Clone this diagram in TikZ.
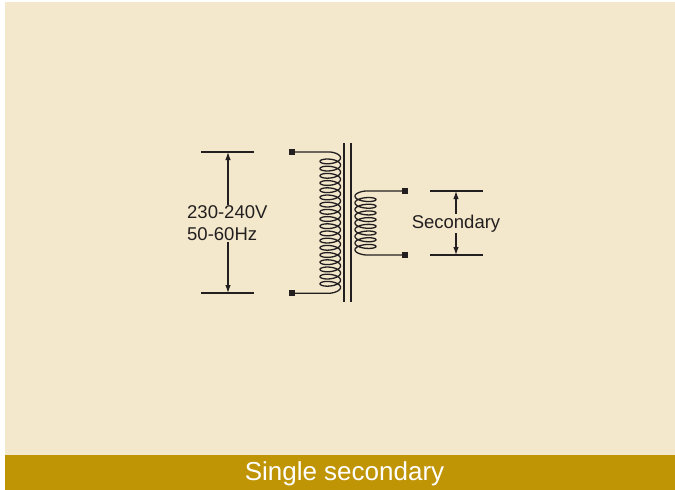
\documentclass[tikz,border=0pt]{standalone}
\usepackage{fontspec}
\setmainfont{Liberation Sans}
\usetikzlibrary{arrows.meta}
\definecolor{paper}{RGB}{243,232,204}
\definecolor{gold}{RGB}{191,149,5}
\definecolor{ink}{RGB}{35,31,32}
\newcommand{\bigtext}{\fontsize{18.5}{22}\selectfont}
\begin{document}
\begin{tikzpicture}[x=1pt,y=-1pt,
        wire/.style={draw=ink, line width=1.3pt},
        core/.style={draw=ink, line width=2pt},
        pin/.style={fill=ink, minimum size=6pt, inner sep=0pt},
        dim/.style={draw=ink, line width=1.1pt, {Latex[length=8pt,width=5.5pt]}-{Latex[length=8pt,width=5.5pt]}},
        lbl/.style={fill=paper, text=ink, inner sep=1pt, font=\bigtext}]
        \useasboundingbox (0,0) rectangle (675,490);
        \fill[paper] (5,2) rectangle (675,455);
        \fill[gold] (5,455) rectangle (675,490);
        % terminals
        \node[pin] (p1) at (292,152) {};
        \node[pin] (p2) at (292,293.2) {};
        \node[pin] (s1) at (404.5,191) {};
        \node[pin] (s2) at (404.5,255) {};
        % coil ends
        \coordinate (pa) at (330.25,152);
        \coordinate (pb) at (330.25,293.2);
        \coordinate (sa) at (365.5,191);
        \coordinate (sb) at (365.5,254.95);
        % primary winding
        \draw[wire] (p1.center) -- (pa)
            -- plot[domain=-90:6570, samples=900, variable=\t]
               ({330.25+10.25*cos(\t)}, {157.8+\t/360*7.2+4*sin(\t)})
            -- (pb) -- (p2.center);
        % secondary winding
        \draw[wire] (s1.center) -- (sa)
            -- plot[domain=-90:2970, samples=420, variable=\t]
               ({365.5-10.5*cos(\t)}, {196.175+\t/360*6.7+3.5*sin(\t)})
            -- (sb) -- (s2.center);
        % core
        \draw[core] (343.5,143) -- (343.5,302);
        \draw[core] (351,143) -- (351,302);
        % dimension lines
        \coordinate (v1) at (228,152);
        \coordinate (v2) at (228,293);
        \coordinate (w1) at (456,191);
        \coordinate (w2) at (456,255);
        \draw[wire] (201,152) -- (254,152);
        \draw[wire] (201,293) -- (254,293);
        \draw[wire] (430,191) -- (483,191);
        \draw[wire] (430,255) -- (483,255);
        \draw[dim] (v1) -- (v2);
        \draw[dim] (w1) -- (w2);
        \node[lbl, anchor=west, align=left] (mains) at (186,223.5) {230-240V\\50-60Hz};
        \node[lbl, anchor=base] (sec) at (456,228.3) {Secondary};
        \node[text=white, font=\fontsize{26}{30}\selectfont, anchor=base] (title) at (344.5,480) {Single secondary};
\end{tikzpicture}
\end{document}
